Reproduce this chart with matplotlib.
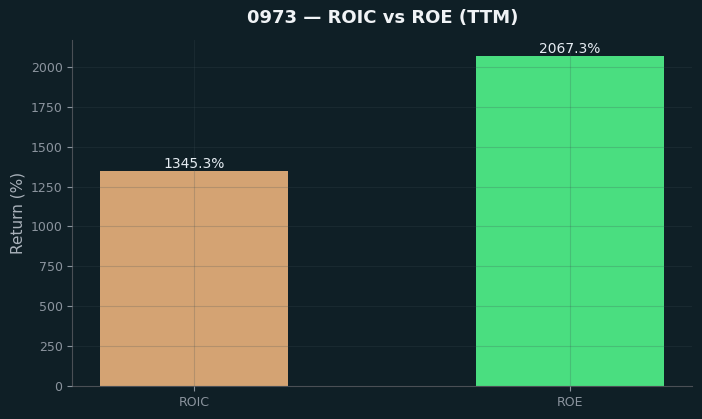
import matplotlib.pyplot as plt

# ==== data ====
metrics = ["ROIC", "ROE"]
values = [1345.3, 2067.3]
colors = ["#d4a373", "#4ade80"]

bg = "#0f1f26"

fig, ax = plt.subplots(figsize=(7.02, 4.19), dpi=100)
fig.patch.set_facecolor(bg)
ax.set_facecolor(bg)

bars = ax.bar(metrics, values, color=colors, width=0.5)
for b, v in zip(bars, values):
    ax.text(b.get_x() + b.get_width() / 2, v, f"{v:.1f}%", ha="center", va="bottom",
            color="#e6edf3", fontsize=10)

ax.set_title("0973 — ROIC vs ROE (TTM)", color="#f0f3f6", fontsize=13,
             fontweight="bold", pad=12)
ax.set_ylabel("Return (%)", color="#a9b1ba", fontsize=11)
ax.grid(True, color="#3f4f55", alpha=0.22, linewidth=0.8)
ax.set_axisbelow(False)
ax.tick_params(colors="#8b949e", labelsize=9)
for s in ["top", "right"]:
    ax.spines[s].set_visible(False)
for s in ["left", "bottom"]:
    ax.spines[s].set_color("#4a4f55")

fig.subplots_adjust(left=0.103, right=0.986, bottom=0.079, top=0.905)
fig.savefig("out.png", facecolor=bg)
